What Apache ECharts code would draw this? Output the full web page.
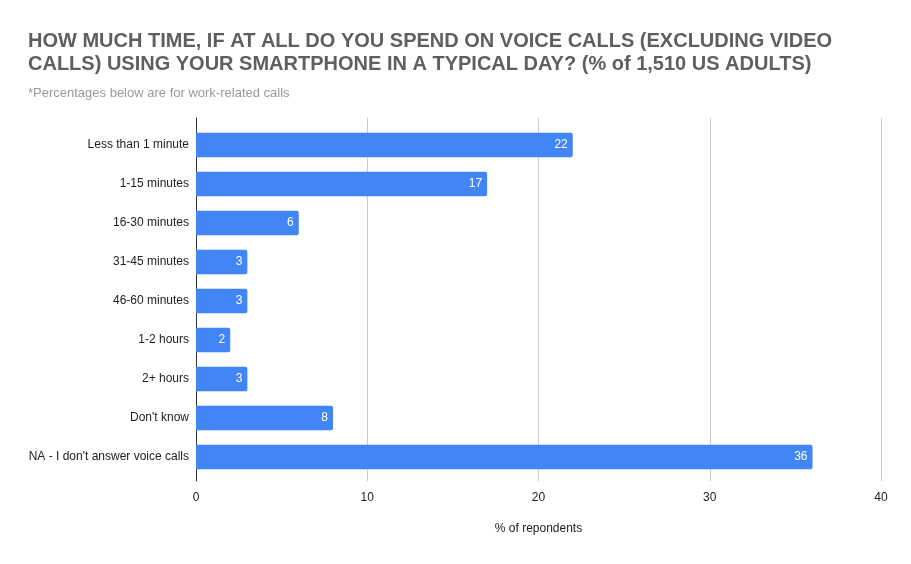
<!DOCTYPE html>
<html><head><meta charset="utf-8">
<script src="https://cdn.jsdelivr.net/npm/echarts@6/dist/echarts.min.js"></script>
<style>html,body{margin:0;padding:0;background:#fff}#c{width:911px;height:564px}</style>
</head><body><div id="c"></div>
<script>
const categories = ["Less than 1 minute","1-15 minutes","16-30 minutes","31-45 minutes","46-60 minutes","1-2 hours","2+ hours","Don't know","NA - I don't answer voice calls"];
const values = [22,17,6,3,3,2,3,8,36];
const titleText = "HOW MUCH TIME, IF AT ALL DO YOU SPEND ON VOICE CALLS (EXCLUDING VIDEO\nCALLS) USING YOUR SMARTPHONE IN A TYPICAL DAY? (% of 1,510 US ADULTS)";
const subtitleText = "*Percentages below are for work-related calls";
const xAxisName = "% of repondents";

const chart = echarts.init(document.getElementById('c'), null, {renderer:'canvas'});
const font = "Arial, 'Liberation Sans', sans-serif";
chart.setOption({
  animation:false,
  backgroundColor:'#fff',
  title:[{
    text:titleText, left:23, top:25,
    textStyle:{fontFamily:font, fontSize:20, fontWeight:'bold', color:'#5f5f5f', lineHeight:23}
  },{
    text:subtitleText, left:23, top:82,
    textStyle:{fontFamily:font, fontSize:13, fontWeight:'normal', color:'#999999'}
  }],
  grid:[
    {left:196, right:30, top:118, bottom:83},
    {left:196, right:30, top:125.5, bottom:87.5}
  ],
  xAxis:[
    {gridIndex:0, type:'value', min:0, max:40, interval:10,
     axisLine:{show:false}, axisTick:{show:false},
     axisLabel:{fontFamily:font, fontSize:12, color:'#222', margin:11},
     splitLine:{lineStyle:{color:'#cccccc', width:1}},
     name:xAxisName, nameLocation:'middle', nameGap:42,
     nameTextStyle:{fontFamily:font, fontSize:12, color:'#222'}},
    {gridIndex:1, type:'value', min:0, max:40, interval:10, show:false}
  ],
  yAxis:[
    {gridIndex:0, type:'value', min:0, max:1, axisLine:{show:true, lineStyle:{color:'#333', width:1}},
     axisTick:{show:false}, axisLabel:{show:false}, splitLine:{show:false}},
    {gridIndex:1, type:'category', data:categories, inverse:true,
     axisLine:{show:false}, axisTick:{show:false}, splitLine:{show:false},
     axisLabel:{fontFamily:font, fontSize:12, color:'#222', margin:7}}
  ],
  series:[{
    type:'bar', xAxisIndex:1, yAxisIndex:1, data:values,
    barCategoryGap:'37%',
    itemStyle:{color:'#4285f4', borderRadius:[0,2,2,0]},
    label:{show:true, position:'insideRight', distance:5, color:'#fff', fontFamily:font, fontSize:12}
  }]
});
</script></body></html>
